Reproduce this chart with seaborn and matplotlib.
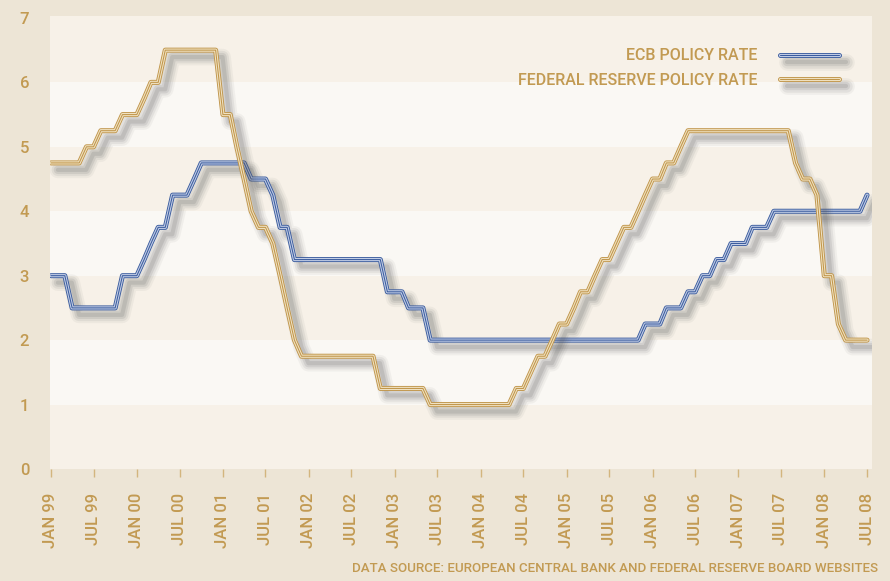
import pandas as pd
import numpy as np
import matplotlib.pyplot as plt
import matplotlib.patheffects as pe
import seaborn as sns

# Tipos oficiales a fin de mes, enero 1999 - julio 2008
meses = pd.date_range('1999-01-01', '2008-07-01', freq='MS')

tasa_bce = [
    3.00, 3.00, 3.00, 2.50, 2.50, 2.50, 2.50, 2.50, 2.50, 2.50, 3.00, 3.00,  # 1999
    3.00, 3.25, 3.50, 3.75, 3.75, 4.25, 4.25, 4.25, 4.50, 4.75, 4.75, 4.75,  # 2000
    4.75, 4.75, 4.75, 4.75, 4.50, 4.50, 4.50, 4.25, 3.75, 3.75, 3.25, 3.25,  # 2001
    3.25, 3.25, 3.25, 3.25, 3.25, 3.25, 3.25, 3.25, 3.25, 3.25, 3.25, 2.75,  # 2002
    2.75, 2.75, 2.50, 2.50, 2.50, 2.00, 2.00, 2.00, 2.00, 2.00, 2.00, 2.00,  # 2003
    2.00, 2.00, 2.00, 2.00, 2.00, 2.00, 2.00, 2.00, 2.00, 2.00, 2.00, 2.00,  # 2004
    2.00, 2.00, 2.00, 2.00, 2.00, 2.00, 2.00, 2.00, 2.00, 2.00, 2.00, 2.25,  # 2005
    2.25, 2.25, 2.50, 2.50, 2.50, 2.75, 2.75, 3.00, 3.00, 3.25, 3.25, 3.50,  # 2006
    3.50, 3.50, 3.75, 3.75, 3.75, 4.00, 4.00, 4.00, 4.00, 4.00, 4.00, 4.00,  # 2007
    4.00, 4.00, 4.00, 4.00, 4.00, 4.00, 4.25,                                # 2008
]

tasa_fed = [
    4.75, 4.75, 4.75, 4.75, 4.75, 5.00, 5.00, 5.25, 5.25, 5.25, 5.50, 5.50,  # 1999
    5.50, 5.75, 6.00, 6.00, 6.50, 6.50, 6.50, 6.50, 6.50, 6.50, 6.50, 6.50,  # 2000
    5.50, 5.50, 5.00, 4.50, 4.00, 3.75, 3.75, 3.50, 3.00, 2.50, 2.00, 1.75,  # 2001
    1.75, 1.75, 1.75, 1.75, 1.75, 1.75, 1.75, 1.75, 1.75, 1.75, 1.25, 1.25,  # 2002
    1.25, 1.25, 1.25, 1.25, 1.25, 1.00, 1.00, 1.00, 1.00, 1.00, 1.00, 1.00,  # 2003
    1.00, 1.00, 1.00, 1.00, 1.00, 1.25, 1.25, 1.50, 1.75, 1.75, 2.00, 2.25,  # 2004
    2.25, 2.50, 2.75, 2.75, 3.00, 3.25, 3.25, 3.50, 3.75, 3.75, 4.00, 4.25,  # 2005
    4.50, 4.50, 4.75, 4.75, 5.00, 5.25, 5.25, 5.25, 5.25, 5.25, 5.25, 5.25,  # 2006
    5.25, 5.25, 5.25, 5.25, 5.25, 5.25, 5.25, 5.25, 4.75, 4.50, 4.50, 4.25,  # 2007
    3.00, 3.00, 2.25, 2.00, 2.00, 2.00, 2.00,                                # 2008
]

etiquetas_series = ['ECB POLICY RATE', 'FEDERAL RESERVE POLICY RATE']
fuente = 'DATA SOURCE: EUROPEAN CENTRAL BANK AND FEDERAL RESERVE BOARD WEBSITES'

df = pd.DataFrame({'fecha': meses, 'bce': tasa_bce, 'fed': tasa_fed})

# colores
oro = '#C29A52'
fondo = '#EDE5D6'
banda_oscura = '#F7F1E8'
banda_clara = '#FAF8F4'
azul, azul_claro = '#3B5C9E', '#C3CEE6'
dorado, dorado_claro = '#C0954A', '#F0E2C2'

sns.set_style('white')
plt.rcParams['font.family'] = ['Roboto', 'DejaVu Sans']
plt.rcParams['font.weight'] = 'medium'

fig = plt.figure(figsize=(8.9, 5.81), dpi=100)
fig.patch.set_facecolor(fondo)
ax = fig.add_axes([50/890, 1 - 469/581, 822/890, 453/581])
ax.set_facecolor(banda_clara)

# bandas horizontales alternas
for i in range(7):
    color = banda_oscura if i % 2 == 0 else banda_clara
    ax.axhspan(i, i + 1.2 if i == 6 else i + 1, color=color, lw=0, zorder=0)


def efectos(oscuro, claro):
    sombra = [pe.SimpleLineShadow(offset=(5, -5), shadow_color='#5a5a5a', alpha=a, linewidth=w)
              for w, a in [(12, 0.06), (9, 0.09), (6, 0.12), (3, 0.15)]]
    return sombra + [pe.Stroke(linewidth=3.6, foreground=oscuro),
                     pe.Stroke(linewidth=2.3, foreground=claro),
                     pe.Normal()]


sns.lineplot(data=df, x='fecha', y='bce', ax=ax, color=azul, lw=0.75, label=etiquetas_series[0], zorder=3)
sns.lineplot(data=df, x='fecha', y='fed', ax=ax, color=dorado, lw=0.75, label=etiquetas_series[1], zorder=3)
ax.lines[0].set_path_effects(efectos(azul, azul_claro))
ax.lines[1].set_path_effects(efectos(dorado, dorado_claro))

ax.set_xlim(pd.Timestamp('1998-12-28'), pd.Timestamp('2008-07-22'))
ax.set_ylim(0, 7.03)
ax.set_yticks(range(8))
ax.tick_params(axis='y', length=0, pad=15, labelsize=12, labelcolor=oro)

ticks_x = pd.date_range('1999-01-01', '2008-07-01', freq='6MS')
ax.set_xticks(ticks_x)
ax.set_xticklabels([d.strftime('%b %y').upper() for d in ticks_x], rotation=90, va='top', ha='center')
ax.tick_params(axis='x', direction='out', length=6, width=1, color='#D3B57E', pad=11,
               labelsize=12, labelcolor=oro, bottom=True)

for s in ax.spines.values():
    s.set_visible(False)
ax.set_xlabel('')
ax.set_ylabel('')
ax.grid(False)

leg = ax.legend(loc='upper right', bbox_to_anchor=(0.977, 0.96), frameon=False, markerfirst=False,
                fontsize=11.5, labelcolor=oro, handlelength=3.7, handletextpad=1.4, labelspacing=0.6)

fig.text(878/890, 1 - 569/581, fuente, ha='right', va='center', color=oro, fontsize=9.6)

fig.savefig('out.png', dpi=100, facecolor=fondo)
plt.close()
